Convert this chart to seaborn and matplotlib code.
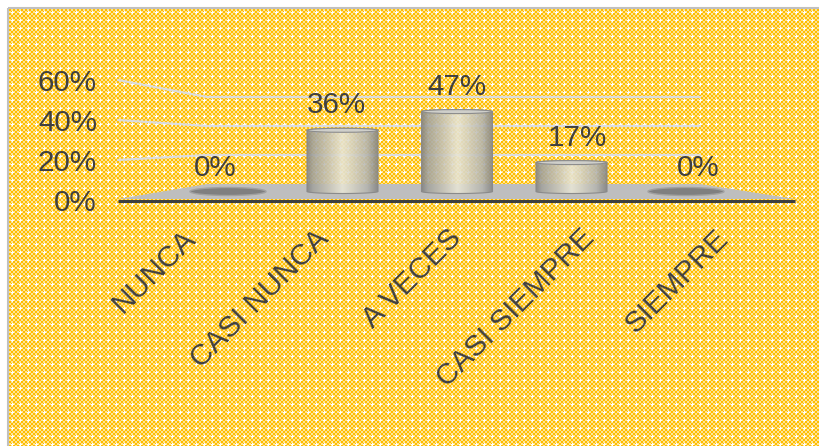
import numpy as np
import pandas as pd
import matplotlib
matplotlib.use("Agg")
import matplotlib.pyplot as plt
import seaborn as sns
from matplotlib.patches import Polygon, Ellipse, Rectangle, PathPatch
from matplotlib.path import Path

# ---- data ----
categories = ["NUNCA", "CASI NUNCA", "A VECES", "CASI SIEMPRE", "SIEMPRE"]
values = [0, 36, 47, 17, 0]
value_labels = ["0%", "36%", "47%", "17%", "0%"]
y_ticks = [0, 20, 40, 60]
y_tick_labels = ["0%", "20%", "40%", "60%"]

sns.set_theme(style="white")
plt.rcParams["font.family"] = ["Liberation Sans", "DejaVu Sans"]

W, H = 820, 446
TEXT = "#404040"
FS = 21.3

fig = plt.figure(figsize=(W / 100, H / 100), dpi=100)
fig.patch.set_facecolor("white")


def frac_rect(left, top, right, bottom):
    """Pixel box (from top-left) -> figure fraction rect."""
    return [left / W, 1 - bottom / H, (right - left) / W, (bottom - top) / H]


# ---- patterned golden background (dotted-grid fill) ----
ph, pw = H - 9, W - 9
yy, xx = np.mgrid[0:ph, 0:pw]
gold = np.array([255, 190, 0]) / 255
pale = np.array([255, 228, 150]) / 255
img = np.where(((yy // 2 + xx // 2) % 2 == 0)[..., None], gold, pale)
cross = (((yy % 8 == 3) & (np.abs(xx % 8 - 3) <= 1)) |
         ((xx % 8 == 3) & (np.abs(yy % 8 - 3) <= 1)))
img[cross] = 1.0
fig.figimage(img, xo=9, yo=0, origin="upper", zorder=-5)

# ---- scene layer in pixel units: border, walls, floor ----
ax_bg = fig.add_axes([0, 0, 1, 1])
ax_bg.set_xlim(0, W)
ax_bg.set_ylim(H, 0)
ax_bg.axis("off")
ax_bg.patch.set_alpha(0)

ax_bg.add_patch(Rectangle((8, 8), W + 20, H + 20, fill=False,
                          ec="#C0C0C0", lw=1.5))

# perspective gridlines: side wall then back wall
for v in y_ticks:
    if v == 0:
        continue
    front_y = 200 - 2.0 * v
    back_y = 184 - 1.45 * v
    ax_bg.plot([118, 207, 700], [front_y, back_y, back_y],
               color="#DCDCDC", lw=1.6, solid_joinstyle="miter")

# floor
ax_bg.add_patch(Polygon([(118, 199), (795, 199), (700, 184), (207, 184)],
                        closed=True, fc="#BEBEBE", ec="none"))
ax_bg.plot([118, 795], [200.5, 200.5], color="#404040", lw=2.2,
           solid_capstyle="butt")

# ---- cylinders ----
ax_main = fig.add_axes(frac_rect(113.5, 72.5, 800.5, 200))
df = pd.DataFrame({"categoria": categories, "valor": values})
sns.barplot(data=df, x="categoria", y="valor", order=categories,
            ax=ax_main, width=0.62, color="#BDBDBD", saturation=1)

px_y = 1.7                 # pixels per percentage point
cap = 4.0 / px_y           # ellipse height of the cylinder caps

stops = [(0.00, (0.52, 0.52, 0.52)), (0.08, (0.64, 0.64, 0.62)),
         (0.30, (0.78, 0.77, 0.72)), (0.50, (0.91, 0.90, 0.84)),
         (0.62, (0.85, 0.84, 0.78)), (0.85, (0.71, 0.71, 0.69)),
         (1.00, (0.52, 0.52, 0.52))]
pos = np.linspace(0, 1, 128)
grad = np.ones((1, 128, 4))
for c in range(3):
    grad[0, :, c] = np.interp(pos, [s[0] for s in stops], [s[1][c] for s in stops])
grad[0, :, 3] = 0.9

bars = list(ax_main.patches)
for p, v, lab in zip(bars, values, value_labels):
    x0, w, h = p.get_x(), p.get_width(), p.get_height()
    cx = x0 + w / 2
    p.set_visible(False)
    if h == 0:
        ax_main.add_patch(Ellipse((cx, 0), w * 1.07, 8.0 / px_y,
                                  fc="#7F7F7F", ec="#A0A0A0", lw=1.0, zorder=3))
        top = 0
    else:
        t1 = np.linspace(np.pi, 2 * np.pi, 60)
        t2 = np.linspace(0, np.pi, 60)
        lower = np.column_stack([cx + w / 2 * np.cos(t1), cap / 2 * np.sin(t1)])
        upper = np.column_stack([cx + w / 2 * np.cos(t2), h + cap / 2 * np.sin(t2)])
        verts = np.vstack([lower, upper, lower[:1]])
        body = PathPatch(Path(verts, closed=True), fc="none", ec="#8A8A8A",
                         lw=0.8, zorder=4)
        ax_main.add_patch(body)
        im = ax_main.imshow(grad, extent=[x0, x0 + w, -cap / 2, h + cap / 2],
                            aspect="auto", zorder=3, interpolation="bilinear")
        im.set_clip_path(body)
        ax_main.add_patch(Ellipse((cx, h), w, cap, fc="#CFCFCA", ec="#8C8C8C",
                                  lw=0.8, zorder=5))
        top = h + cap / 2
    idx = cx - 2
    ax_main.annotate(lab, (cx, top), xytext=(idx * 6.3 * 0.72, 15 * 0.72),
                     textcoords="offset points", ha="center", va="baseline",
                     fontsize=FS, color=TEXT)

ax_main.set_xlim(-1, 5)
ax_main.set_ylim(-5, 70)
ax_main.axis("off")
ax_main.patch.set_alpha(0)

# ---- value axis labels on the side wall ----
ax_wall = fig.add_axes(frac_rect(118, 80, 207, 200))
ax_wall.set_ylim(0, 60)
ax_wall.set_yticks(y_ticks, labels=y_tick_labels)
ax_wall.set_xticks([])
ax_wall.tick_params(axis="y", length=0, pad=21 * 0.72, labelsize=FS,
                    labelcolor=TEXT)
for s in ax_wall.spines.values():
    s.set_visible(False)
ax_wall.patch.set_alpha(0)

# ---- category labels along the front edge ----
ax_front = fig.add_axes(frac_rect(114.4, 223, 780.4, 224))
ax_front.set_xlim(-0.5, 4.5)
ax_front.set_xticks(range(len(categories)), labels=categories)
ax_front.set_yticks([])
ax_front.tick_params(axis="x", length=0, pad=0, labelsize=FS, labelcolor=TEXT)
for t in ax_front.get_xticklabels():
    t.set_rotation(45)
    t.set_ha("right")
    t.set_va("top")
    t.set_rotation_mode("anchor")
for s in ax_front.spines.values():
    s.set_visible(False)
ax_front.patch.set_alpha(0)

fig.savefig("out.png", dpi=100)
